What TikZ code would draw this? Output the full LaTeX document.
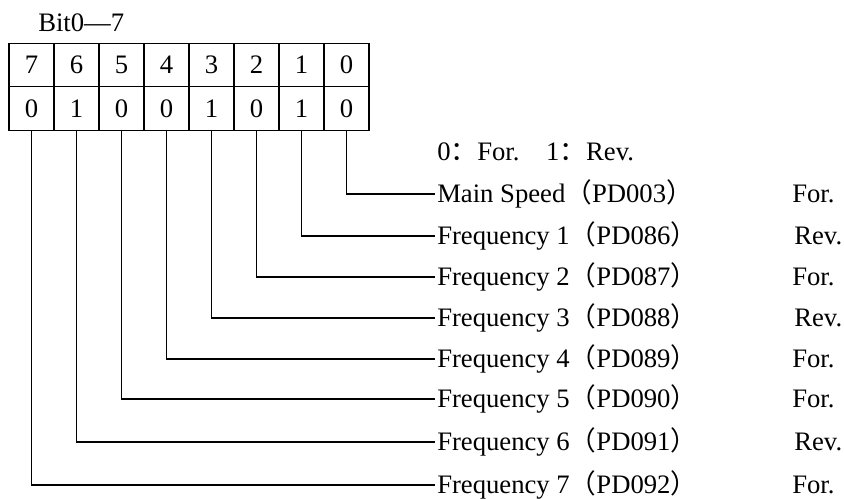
\documentclass[tikz,border=0pt]{standalone}
\usepackage{fontspec}
\setmainfont{Liberation Serif}
\newfontfamily\cjk{Noto Sans CJK SC}
\usepackage{tikz}
\newcommand{\zlp}{{\cjk （}}
\newcommand{\zrp}{{\cjk ）}}
\newcommand{\zco}{{\cjk ：}}

\begin{document}
\begin{tikzpicture}[x=0.75pt, y=-0.75pt,
    every node/.style={font=\fontsize{20}{24}\selectfont},
    cell/.style={draw, line width=1pt, minimum width=33.75pt, minimum height=32.6pt, inner sep=0pt},
    lbl/.style={anchor=west, inner sep=1.5pt},
    wire/.style={line width=0.8pt}]
        \useasboundingbox (0,0) rectangle (844,499);

        % Title
        \node[anchor=west, inner sep=0pt] (title) at (38,23) {Bit0—7};

        % Bit table (numbers and values)
        \foreach \b/\v [count=\i from 0] in {7/0,6/1,5/0,4/0,3/1,2/0,1/1,0/0} {
            \node[cell] (n\b) at ({31.5+45*\i},65) {\b};
            \node[cell] (v\b) at ({31.5+45*\i},108.5) {\v};
        }

        % Key
        \node[lbl] (key) at (435,152) {0\zco For.\hspace{1em}1\zco Rev.};

        % Settings
        \node[lbl] (f0) at (435,194) {Main Speed\zlp PD003\zrp};
        \node[lbl] (f1) at (435,236) {Frequency 1\zlp PD086\zrp};
        \node[lbl] (f2) at (435,277) {Frequency 2\zlp PD087\zrp};
        \node[lbl] (f3) at (435,318) {Frequency 3\zlp PD088\zrp};
        \node[lbl] (f4) at (435,359) {Frequency 4\zlp PD089\zrp};
        \node[lbl] (f5) at (435,399) {Frequency 5\zlp PD090\zrp};
        \node[lbl] (f6) at (435,442) {Frequency 6\zlp PD091\zrp};
        \node[lbl] (f7) at (435,485) {Frequency 7\zlp PD092\zrp};

        % Directions
        \node[lbl] (d0) at (790,194) {For.};
        \node[lbl] (d1) at (792,236) {Rev.};
        \node[lbl] (d2) at (790,277) {For.};
        \node[lbl] (d3) at (792,318) {Rev.};
        \node[lbl] (d4) at (790,359) {For.};
        \node[lbl] (d5) at (790,399) {For.};
        \node[lbl] (d6) at (792,442) {Rev.};
        \node[lbl] (d7) at (790,485) {For.};

        % Bit lines
        \foreach \b in {0,...,7} {
            \draw[wire] (v\b.south) |- (f\b.west);
        }
    \end{tikzpicture}
\end{document}
